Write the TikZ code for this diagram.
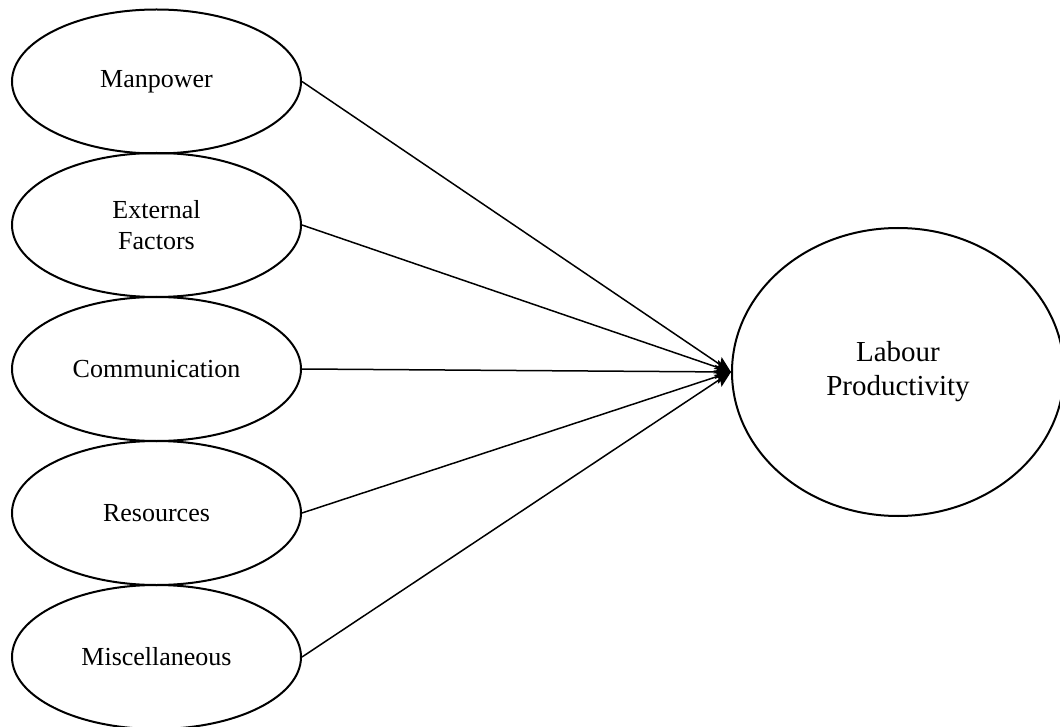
\documentclass[tikz,border=0pt]{standalone}
\usepackage{fontspec}
\setmainfont{Liberation Serif}
\usetikzlibrary{shapes.geometric,arrows.meta}
\begin{document}
\begin{tikzpicture}[x=1pt,y=-1pt,
  factor/.style={ellipse,draw,line width=2pt,minimum width=289pt,minimum height=144pt,inner sep=0pt,align=center,font=\fontsize{26}{31}\selectfont},
  target/.style={ellipse,draw,line width=2pt,minimum width=332pt,minimum height=288pt,inner sep=0pt,align=center,font=\fontsize{29}{34}\selectfont},
  link/.style={line width=1.5pt,-{Stealth[length=16pt,width=14pt,inset=3pt]}}]
\useasboundingbox (0,0) rectangle (1060,727);
\node[factor] (m1) at (156.5,81.5) {Manpower};
\node[factor] (m2) at (156.5,225) {External\\Factors};
\node[factor] (m3) at (156.5,369) {Communication};
\node[factor] (m4) at (156.5,513) {Resources};
\node[factor] (m5) at (156.5,657) {Miscellaneous};
\node[target] (lp) at (898,372) {Labour\\Productivity};
\foreach \i in {1,...,5} {\draw[link] (m\i.east) -- (lp.west);}
\end{tikzpicture}
\end{document}
